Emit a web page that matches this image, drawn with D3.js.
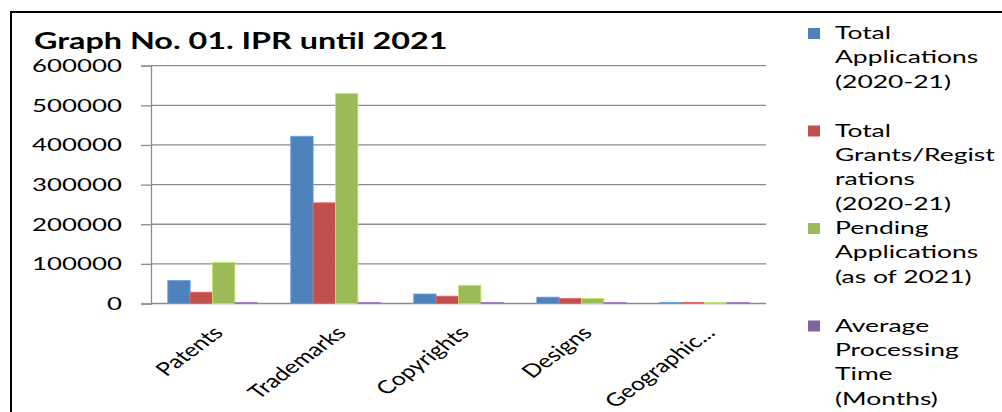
<!DOCTYPE html>
<html>
<head>
<meta charset="utf-8">
<script src="https://cdn.jsdelivr.net/npm/d3@7"></script>
<style>
  html, body { margin: 0; padding: 0; background: #fff; }
  svg { display: block; }
  text { font-family: Lato, "Liberation Sans", sans-serif; fill: #000; }
</style>
</head>
<body>
<svg id="chart" width="1002" height="412"></svg>
<script>
// Intellectual property filings by category
const categories = ["Patents", "Trademarks", "Copyrights", "Designs", "Geographic..."];
const seriesNames = [
  "Total Applications (2020-21)",
  "Total Grants/Registrations (2020-21)",
  "Pending Applications (as of 2021)",
  "Average Processing Time (Months)"
];
// legend entries as they wrap in the legend column
const legendLines = [
  ["Total", "Applications", "(2020-21)"],
  ["Total", "Grants/Regist", "rations", "(2020-21)"],
  ["Pending", "Applications", "(as of 2021)"],
  ["Average", "Processing", "Time", "(Months)"]
];
const totalApplications   = [58000, 422000, 24000, 16000, 600];
const totalGrants         = [28500, 254000, 18500, 12800, 450];
const pendingApplications = [103500, 530000, 46000, 12500, 700];
const avgProcessingMonths = [36, 14, 9, 14, 18];
const yTicks = [0, 100000, 200000, 300000, 400000, 500000, 600000];
const titleText = "Graph No. 01. IPR until 2021";

const seriesValues = [totalApplications, totalGrants, pendingApplications, avgProcessingMonths];
const colors = ["#4F81BD", "#C0504D", "#9BBB59", "#8064A2"];

const svg = d3.select("#chart");
const SX = 1.47;      // wide text rendering
const SX_CAT = 1.35;  // category labels

const plot = { left: 151, right: 766, top: 65.7, bottom: 303.5 };

const x0 = d3.scaleBand()
  .domain(categories)
  .range([plot.left, plot.right])
  .paddingInner(1.5 / 5.5)
  .paddingOuter(0.75 / 5.5);

const x1 = d3.scaleBand()
  .domain(d3.range(seriesNames.length))
  .range([0, x0.bandwidth()]);

const y = d3.scaleLinear().domain([0, 600000]).range([plot.bottom, plot.top]);

// outer frame
svg.append("path")
  .attr("d", "M11,412 L11,12 L1002,12")
  .attr("fill", "none")
  .attr("stroke", "#000")
  .attr("stroke-width", 2);

// title
svg.append("text")
  .attr("transform", `translate(34,49) scale(${SX},1)`)
  .attr("font-size", 22)
  .attr("font-weight", "bold")
  .text(titleText);

// gridlines and y ticks
const yAxis = d3.axisLeft(y).tickValues(yTicks).tickSize(10).tickFormat(d3.format("d"));
const yG = svg.append("g").attr("transform", `translate(${plot.left},0)`).call(yAxis);
yG.select(".domain").attr("stroke", "#8c8c8c").attr("stroke-width", 1.3);
yG.selectAll(".tick line").attr("stroke", "#8c8c8c").attr("stroke-width", 1.3);
yG.selectAll(".tick text").remove();

svg.append("g").selectAll("line")
  .data(yTicks)
  .join("line")
  .attr("x1", plot.left).attr("x2", plot.right)
  .attr("y1", d => y(d)).attr("y2", d => y(d))
  .attr("stroke", "#8c8c8c")
  .attr("stroke-width", 1.3);

svg.append("g").selectAll("text")
  .data(yTicks)
  .join("text")
  .attr("transform", d => `translate(122,${y(d) + 6.3}) scale(${SX},1)`)
  .attr("text-anchor", "end")
  .attr("font-size", 17.6)
  .text(d3.format("d"));

// bars
const groups = svg.append("g").selectAll("g")
  .data(categories)
  .join("g")
  .attr("transform", d => `translate(${x0(d)},0)`);

groups.selectAll("rect")
  .data((c, i) => seriesValues.map((vals, s) => ({ s, v: vals[i] })))
  .join("rect")
  .attr("x", d => x1(d.s))
  .attr("width", x1.bandwidth())
  .attr("y", d => Math.min(y(d.v), plot.bottom - 1))
  .attr("height", d => Math.max(plot.bottom - y(d.v), 1))
  .attr("fill", d => colors[d.s])
  .attr("stroke", d => d3.color(colors[d.s]).brighter(0.6))
  .attr("stroke-width", 0.8);

// category labels
svg.append("g").selectAll("text")
  .data(categories)
  .join("text")
  .attr("transform", d => `translate(${x0(d) + x0.bandwidth() / 2 + 12},334) scale(${SX_CAT},1) rotate(-45)`)
  .attr("text-anchor", "end")
  .attr("font-size", 18.5)
  .text(d => d);

// legend
const legend = svg.append("g");
const legendTop = 39, lineH = 24.4, slotH = 97.5;
legendLines.forEach((lines, i) => {
  const base = legendTop + i * slotH;
  legend.append("rect")
    .attr("x", 808).attr("y", base - 11)
    .attr("width", 12).attr("height", 11)
    .attr("fill", colors[i]);
  lines.forEach((t, j) => {
    legend.append("text")
      .attr("transform", `translate(835,${base + j * lineH}) scale(${SX},1)`)
      .attr("font-size", 18)
      .text(t);
  });
});
</script>
</body>
</html>
